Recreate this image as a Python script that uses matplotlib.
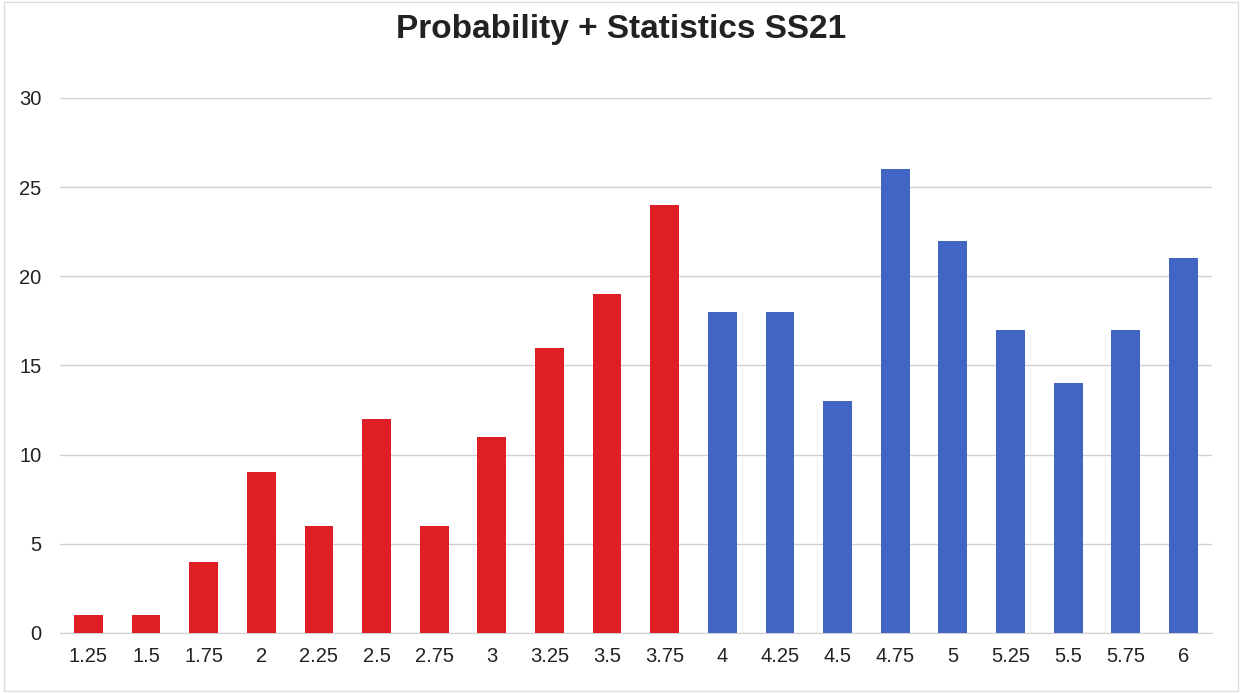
import matplotlib
matplotlib.use("Agg")
import matplotlib.pyplot as plt

plt.rcParams['font.family'] = ['Liberation Sans', 'DejaVu Sans']

grades = ["1.25", "1.5", "1.75", "2", "2.25", "2.5", "2.75", "3", "3.25", "3.5",
          "3.75", "4", "4.25", "4.5", "4.75", "5", "5.25", "5.5", "5.75", "6"]
counts = [1, 1, 4, 9, 6, 12, 6, 11, 16, 19,
          24, 18, 18, 13, 26, 22, 17, 14, 17, 21]
passed_from = "4"

red = "#e01e25"
blue = "#4264c2"
cut = grades.index(passed_from)
colors = [red if i < cut else blue for i in range(len(grades))]

fig = plt.figure(figsize=(12.42, 6.93), dpi=100)
ax = fig.add_axes([0.048, 0.0866, 0.928, 0.772])
x = list(range(len(grades)))
ax.bar(x, counts, width=0.5, color=colors, zorder=3)

ax.set_xlim(-0.5, len(grades) - 0.5)
ax.set_ylim(0, 30)
ax.set_yticks([0, 5, 10, 15, 20, 25, 30])
ax.set_xticks(x)
ax.set_xticklabels(grades)
ax.yaxis.grid(True, color="#d0d0d0", linewidth=1, zorder=0)
for s in ax.spines.values():
    s.set_visible(False)
ax.spines['bottom'].set_visible(True)
ax.spines['bottom'].set_color("#d0d0d0")
ax.tick_params(axis='both', length=0, labelsize=14.5, colors="#222222")
ax.tick_params(axis='x', pad=10)
ax.tick_params(axis='y', pad=13)

fig.text(0.5, 0.957, "Probability + Statistics SS21", fontsize=24, fontweight='bold',
         color="#222222", ha='center', va='center')

fig.patches.append(plt.Rectangle((0.003, 0.003), 0.994, 0.994, transform=fig.transFigure,
                                 fill=False, edgecolor="#dddddd", linewidth=1))

fig.savefig("out.png", dpi=100)
